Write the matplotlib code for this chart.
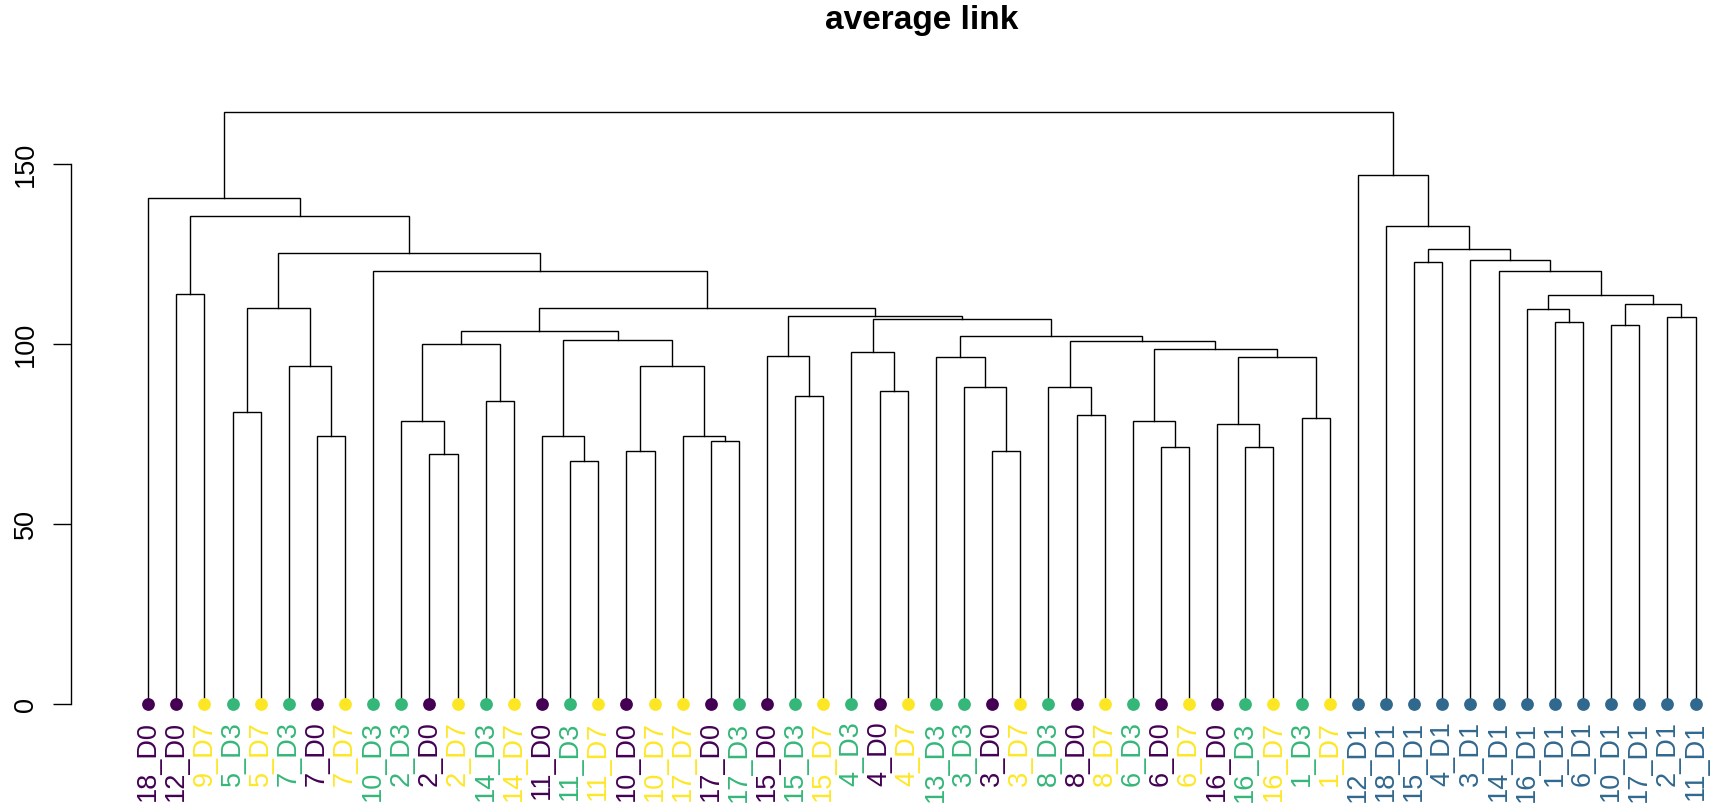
import matplotlib
matplotlib.use("Agg")
import matplotlib.pyplot as plt

plt.rcParams['font.family'] = ['Liberation Sans', 'DejaVu Sans']

# leaves in plotting order (left to right)
leaf_labels = [
    "18_D0", "12_D0", "9_D7", "5_D3", "5_D7", "7_D3", "7_D0", "7_D7",
    "10_D3", "2_D3", "2_D0", "2_D7", "14_D3", "14_D7", "11_D0", "11_D3",
    "11_D7", "10_D0", "10_D7", "17_D7", "17_D0", "17_D3", "15_D0", "15_D3",
    "15_D7", "4_D3", "4_D0", "4_D7", "13_D3", "3_D3", "3_D0", "3_D7",
    "8_D3", "8_D0", "8_D7", "6_D3", "6_D0", "6_D7", "16_D0", "16_D3",
    "16_D7", "1_D3", "1_D7", "12_D1", "18_D1", "15_D1", "4_D1", "3_D1",
    "14_D1", "16_D1", "1_D1", "6_D1", "10_D1", "17_D1", "2_D1", "11_D1",
]

# merges, hclust style: negative = leaf position (1-based), positive = earlier merge step
merge_left = [
    -2, -4, -7, -6, 2, -11, -10, -13, 7, -16, -15, -18, -21, -20, 12, 11, 9,
    -24, -23, -27, -26, -31, -30, -29, -34, -33, -37, -36, -40, -39, -42, 30,
    28, 26, 24, 21, 19, 17, -9, 5, 1, -1,
    -46, -51, -50, -53, -55, 46, 45, -49, -48, 43, -45, -44, 42,
]
merge_right = [
    -3, -5, -8, 3, 4, -12, 6, -14, 8, -17, 10, -19, -22, 13, 14, 15, 16,
    -25, 18, -28, 20, -32, 22, 23, -35, 25, -38, 27, -41, 29, -43, 31,
    32, 33, 34, 35, 36, 37, 38, 39, 40, 41,
    -47, -52, 44, -54, -56, 47, 48, 49, 50, 51, 52, 53, 54,
]
merge_height = [
    113.8, 81.2, 74.5, 93.8, 110.1, 69.4, 78.7, 84.1, 100.1, 67.5, 74.4, 70.2,
    73.0, 74.6, 94.0, 101.1, 103.6, 85.7, 96.7, 86.9, 97.9, 70.2, 88.2, 96.5,
    80.2, 88.1, 71.3, 78.6, 71.5, 77.9, 79.6, 96.3, 98.7, 101.0, 102.2, 106.9,
    107.8, 110.0, 120.4, 125.2, 135.7, 140.6,
    122.9, 106.2, 109.8, 105.4, 107.5, 111.2, 113.7, 120.2, 123.4, 126.4,
    132.7, 147.1, 164.4,
]

day_colors = {"D0": "#440154", "D1": "#31688E", "D3": "#35B779", "D7": "#FDE725"}

W, H = 1713, 810
fig = plt.figure(figsize=(W / 100, H / 100), dpi=100)

x0_px, x1_px = 148.1, 1695.5
n = len(leaf_labels)
ppu = (x1_px - x0_px) / (n - 1)
ax_left = 71
y0_px = 704
ypu = 3.5987
ytop = 170
ax = fig.add_axes([ax_left / W, (H - y0_px) / H, (W - ax_left) / W, ytop * ypu / H])
ax.set_xlim(1 - (x0_px - ax_left) / ppu, 1 + (W - x0_px) / ppu)
ax.set_ylim(0, ytop)

node_x, node_h = [], []


def child_pos(c):
    if c < 0:
        return float(-c), 0.0
    return node_x[c - 1], node_h[c - 1]


for l, r, h in zip(merge_left, merge_right, merge_height):
    lx, lh = child_pos(l)
    rx, rh = child_pos(r)
    ax.plot([lx, lx, rx, rx], [lh, h, h, rh], color="black", lw=1.0,
            solid_joinstyle="miter", clip_on=False)
    node_x.append((lx + rx) / 2)
    node_h.append(h)

for i, lab in enumerate(leaf_labels, start=1):
    col = day_colors[lab.split("_")[1]]
    ax.plot(i, 0, "o", color=col, ms=9.2, mec="none", clip_on=False, zorder=3)
    ax.annotate(lab, (i, 0), xytext=(0, -12.5), textcoords="offset points",
                rotation=90, rotation_mode="anchor", ha="right", va="center",
                fontsize=19.5, color=col, annotation_clip=False)

for s in ["top", "right", "bottom"]:
    ax.spines[s].set_visible(False)
ax.spines["left"].set_bounds(0, 150)
ax.spines["left"].set_linewidth(1.0)
ax.set_xticks([])
ax.set_yticks([0, 50, 100, 150])
ax.set_yticklabels(["0", "50", "100", "150"], rotation=90, va="center")
ax.tick_params(axis="y", length=13, width=1.0, pad=10, labelsize=19.5)
ax.patch.set_visible(False)

fig.text(921.8 / W, 1 - 21 / H, "average link", ha="center", va="center",
         fontsize=24, fontweight="bold")

fig.savefig("out.png", dpi=100)
